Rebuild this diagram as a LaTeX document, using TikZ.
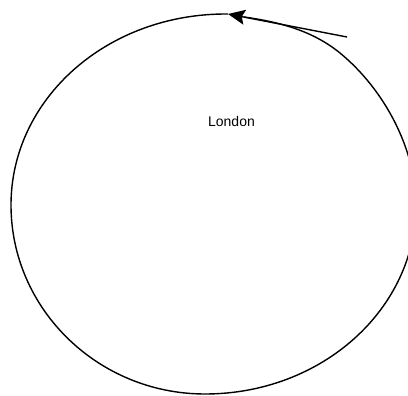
\documentclass[tikz,border=0pt]{standalone}
\usepackage{fontspec}
\setmainfont{Liberation Sans}
\usetikzlibrary{arrows.meta}

\begin{document}
\begin{tikzpicture}[x=1pt, y=-1pt, line width=1.4pt]
\useasboundingbox (0,0) rectangle (408,396);
\clip (0,0) rectangle (408,396);
\node[font=\fontsize{14}{16}\selectfont] (london) at (231.5,121) {London};
\coordinate (tail) at (347,37);
\coordinate (tip) at (228,14);
% the loop
\draw (tip) .. controls (107,13) and (11,99) .. (11,205)
  .. controls (11,309) and (98,394) .. (205,394)
  .. controls (322,394) and (416,309) .. (416,205)
  .. controls (416,150) and (385,90) .. (340,53)
  .. controls (313,31) and (280,22) .. (244,17);
\draw[-{Stealth[length=17pt,width=15pt,inset=3pt]}] (tail) -- (tip);
\end{tikzpicture}
\end{document}
